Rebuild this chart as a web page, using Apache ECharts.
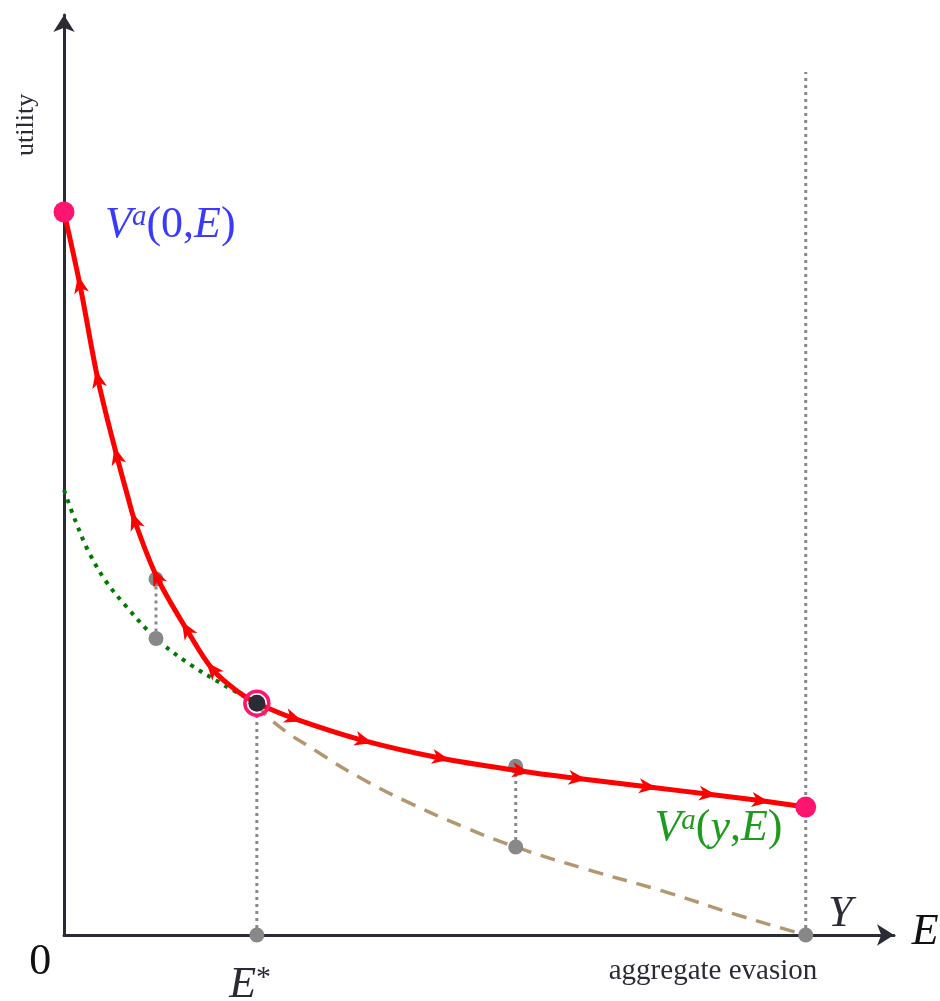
<!DOCTYPE html>
<html>
<head>
<meta charset="utf-8">
<script src="https://cdn.jsdelivr.net/npm/echarts@6/dist/echarts.min.js"></script>
<style>html,body{margin:0;padding:0;background:#fff;}#c{width:940px;height:1001px;}</style>
</head>
<body>
<div id="c"></div>
<script>
// ---- data ----
// red path, upper part: from V^a(0,E) down to E*
const redUpperX = [0, 0.216, 0.458, 0.714, 0.863, 0.957, 1.253, 1.658, 2.008, 2.372, 2.60];
const redUpperY = [7.80, 7.01, 5.99, 5.16, 4.72, 4.46, 3.86, 3.29, 2.86, 2.61, 2.50];
// red path, lower part: from E* to Y
const redLowerX = [2.60, 3.086, 4.03, 5.07, 6.15, 6.91, 7.86, 8.67, 9.38, 10.0];
const redLowerY = [2.50, 2.34, 2.10, 1.91, 1.77, 1.69, 1.60, 1.52, 1.45, 1.38];
// indices of arrow heads on each red part
const arrowsUpperIdx = [1, 2, 3, 5, 6, 7, 8];   // pointing toward V^a(0,E)
const arrowsLowerIdx = [1, 2, 3, 4, 5, 6, 7, 8]; // pointing toward Y
// green dotted curve
const greenX = [0, 0.148, 0.323, 0.553, 0.822, 1.24, 1.698, 2.170, 2.60];
const greenY = [4.80, 4.48, 4.15, 3.83, 3.56, 3.20, 2.92, 2.69, 2.50];
// brown dashed curve
const brownX = [2.60, 2.82, 3.41, 4.03, 4.70, 5.38, 6.09, 7.00, 8.13, 9.02, 10.0];
const brownY = [2.50, 2.30, 1.98, 1.68, 1.41, 1.17, 0.95, 0.72, 0.46, 0.23, 0.0];
// key points
const eStar = [2.60, 2.50];
const v0Point = [0, 7.80];
const endPoint = [10.0, 1.38];
const grayPointsX = [1.24, 1.24, 6.09, 6.09, 2.60, 10.0];
const grayPointsY = [3.84, 3.20, 1.82, 0.95, 0.0, 0.0];
// vertical dotted guides: x, yFrom, yTo
const guideX = [2.60, 1.24, 6.09, 10.0];
const guideFrom = [0, 3.20, 0.95, 0];
const guideTo = [2.50, 3.84, 1.82, 9.31];
// axis extents
const xMax = 11.19;
const yMax = 9.925;

// ---- styles ----
const SERIF = 'Liberation Serif';
const RED = '#ff0000';
const PINK = '#ff1470';
const GRAY = '#888888';
const AXIS = '#2b2b36';
const BLUE = '#3a3aff';
const GREEN = '#1e9a1e';

const zip = (xs, ys) => xs.map((x, i) => [x, ys[i]]);

function arrowItems(xs, ys, idx, dir) {
  return idx.map(i => [xs[i], ys[i], xs[i - 1], ys[i - 1], xs[i + 1], ys[i + 1], dir]);
}
const arrowData = arrowItems(redUpperX, redUpperY, arrowsUpperIdx, -1)
  .concat(arrowItems(redLowerX, redLowerY, arrowsLowerIdx, 1));

const guideSeries = guideX.map((x, i) => ({
  type: 'line', silent: true, symbol: 'none', z: 2,
  data: [[x, guideFrom[i]], [x, guideTo[i]]],
  lineStyle: { color: GRAY, width: 3, type: [3, 4] }
}));

const rich = {
  it: { fontFamily: SERIF, fontStyle: 'italic', fontSize: 44, lineHeight: 44 },
  rm: { fontFamily: SERIF, fontSize: 44, lineHeight: 44 },
  sup: { fontFamily: SERIF, fontStyle: 'italic', fontSize: 29, lineHeight: 34, verticalAlign: 'top' },
  star: { fontFamily: SERIF, fontSize: 30, lineHeight: 40, verticalAlign: 'top' }
};
function withColor(c) {
  const r = {};
  Object.keys(rich).forEach(k => { r[k] = Object.assign({}, rich[k], { color: c, opacity: 1 }); });
  return r;
}

const labelItems = [
  { value: [0.553, 7.66], label: { position: 'right', distance: 0, formatter: '{it|V}{sup|a}{rm|(0,}{it|E}{rm|)}', rich: withColor(BLUE) } },
  { value: [7.96, 1.15], label: { position: 'right', distance: 0, formatter: '{it|V}{sup|a}{rm|(}{it|y}{rm|,}{it|E}{rm|)}', rich: withColor(GREEN) } },
  { value: [10.30, 0.22], label: { position: 'right', distance: 0, formatter: '{it|Y}', rich: withColor(AXIS) } },
  { value: [11.43, 0.03], label: { position: 'right', distance: 0, formatter: '{it|E}', rich: withColor('#111') } },
  { value: [-0.32, -0.30], label: { position: 'inside', formatter: '{rm|0}', rich: withColor('#111') } },
  { value: [2.51, -0.54], label: { position: 'inside', formatter: '{it|E}{star|*}', rich: withColor(AXIS) } },
  { value: [-0.51, 8.74], label: { position: 'inside', rotate: 90, formatter: 'utility', fontFamily: SERIF, fontSize: 26, color: '#2b2b36' } },
  { value: [8.75, -0.39], label: { position: 'inside', formatter: 'aggregate evasion', fontFamily: SERIF, fontSize: 29, color: '#2b2b36' } }
];

const SMOOTH = 0.35;

const chart = echarts.init(document.getElementById('c'), null, { renderer: 'canvas' });
chart.setOption({
  animation: false,
  backgroundColor: '#ffffff',
  grid: { left: 64, right: 46, top: 15, bottom: 66, containLabel: false },
  xAxis: {
    type: 'value', min: 0, max: xMax,
    axisLine: { show: true, onZero: false, symbol: ['none', 'arrow'], symbolSize: [16, 17], lineStyle: { color: AXIS, width: 3 } },
    axisTick: { show: false }, axisLabel: { show: false }, splitLine: { show: false }
  },
  yAxis: {
    type: 'value', min: 0, max: yMax,
    axisLine: { show: true, onZero: false, symbol: ['none', 'arrow'], symbolSize: [16, 17], lineStyle: { color: AXIS, width: 3 } },
    axisTick: { show: false }, axisLabel: { show: false }, splitLine: { show: false }
  },
  series: [
    ...guideSeries,
    {
      type: 'line', name: 'green', silent: true, symbol: 'none', z: 3,
      smooth: SMOOTH,
      data: zip(greenX, greenY),
      lineStyle: { color: '#007a00', width: 4, type: [4, 6] }
    },
    {
      type: 'line', name: 'brown', silent: true, symbol: 'none', z: 3,
      smooth: 0.5,
      data: zip(brownX, brownY),
      lineStyle: { color: '#b39770', width: 3.5, type: [15, 10] }
    },
    {
      type: 'scatter', name: 'grayPts', silent: true, z: 4,
      symbolSize: 15, itemStyle: { color: GRAY, opacity: 1 },
      data: zip(grayPointsX, grayPointsY)
    },
    {
      type: 'line', name: 'redUpper', silent: true, symbol: 'none', z: 5,
      smooth: SMOOTH,
      data: zip(redUpperX, redUpperY),
      lineStyle: { color: RED, width: 5 }
    },
    {
      type: 'line', name: 'redLower', silent: true, symbol: 'none', z: 5,
      smooth: SMOOTH,
      data: zip(redLowerX, redLowerY),
      lineStyle: { color: RED, width: 5 }
    },
    {
      type: 'custom', name: 'arrows', silent: true, z: 6,
      data: arrowData,
      renderItem: function (params, api) {
        const p = api.coord([api.value(0), api.value(1)]);
        const a = api.coord([api.value(2), api.value(3)]);
        const b = api.coord([api.value(4), api.value(5)]);
        const d = api.value(6);
        const ang = Math.atan2((b[1] - a[1]) * d, (b[0] - a[0]) * d);
        const c = Math.cos(ang), s = Math.sin(ang);
        const local = [[10, 0], [-8, -7.5], [-3, 0], [-8, 7.5]];
        const pts = local.map(q => [p[0] + q[0] * c - q[1] * s, p[1] + q[0] * s + q[1] * c]);
        return { type: 'polygon', shape: { points: pts }, style: { fill: RED } };
      }
    },
    {
      type: 'scatter', name: 'ends', silent: true, z: 7,
      symbolSize: 21, itemStyle: { color: PINK, opacity: 1 },
      data: [v0Point, endPoint]
    },
    {
      type: 'scatter', name: 'eStarDot', silent: true, z: 8,
      symbolSize: 17, itemStyle: { color: AXIS, opacity: 1 },
      data: [eStar]
    },
    {
      type: 'scatter', name: 'eStarRing', silent: true, z: 9,
      symbolSize: 24, itemStyle: { color: 'rgba(0,0,0,0)', borderColor: PINK, borderWidth: 3.5, opacity: 1 },
      data: [eStar]
    },
    {
      type: 'scatter', name: 'labels', silent: true, z: 10, clip: false,
      symbolSize: 0, itemStyle: { opacity: 1 },
      label: { show: true },
      data: labelItems
    }
  ]
});
</script>
</body>
</html>
